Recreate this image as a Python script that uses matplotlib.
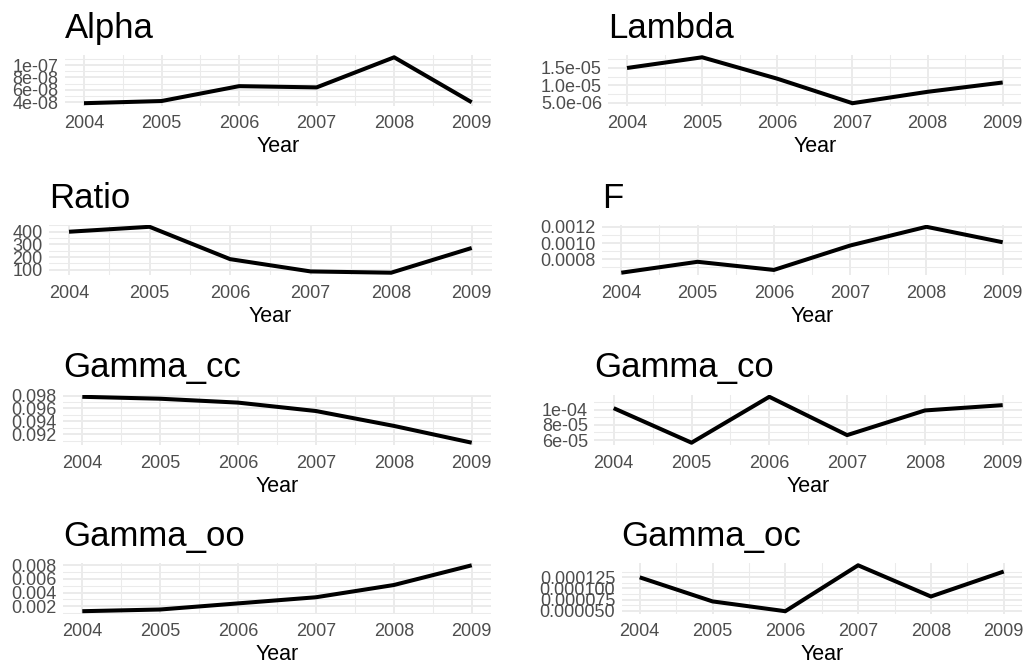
import numpy as np
import matplotlib
matplotlib.use("Agg")
import matplotlib.pyplot as plt

plt.rcParams['font.family'] = ['Liberation Sans', 'DejaVu Sans']

years = [2004, 2005, 2006, 2007, 2008, 2009]

alpha = [3.85e-08, 4.2e-08, 6.6e-08, 6.4e-08, 1.125e-07, 4.0e-08]
lam = [1.5e-05, 1.81e-05, 1.19e-05, 4.8e-06, 8.1e-06, 1.08e-05]
ratio = [400, 439, 184, 87, 77, 272]
f_vals = [0.000636, 0.00077, 0.00067, 0.00097, 0.0012, 0.00101]
gamma_cc = [0.0978, 0.0975, 0.0969, 0.0956, 0.0933, 0.0907]
gamma_co = [1.02e-04, 5.65e-05, 1.17e-04, 6.65e-05, 9.9e-05, 1.06e-04]
gamma_oo = [0.00125, 0.0015, 0.0024, 0.0033, 0.0051, 0.008]
gamma_oc = [1.25e-04, 7.1e-05, 4.9e-05, 1.52e-04, 8.2e-05, 1.38e-04]

# y breaks and their labels, as printed on each panel
alpha_ticks = [4e-08, 6e-08, 8e-08, 1e-07]
alpha_labels = ['4e-08', '6e-08', '8e-08', '1e-07']
lam_ticks = [5e-06, 1e-05, 1.5e-05]
lam_labels = ['5.0e-06', '1.0e-05', '1.5e-05']
ratio_ticks = [100, 200, 300, 400]
ratio_labels = ['100', '200', '300', '400']
f_ticks = [0.0008, 0.0010, 0.0012]
f_labels = ['0.0008', '0.0010', '0.0012']
cc_ticks = [0.092, 0.094, 0.096, 0.098]
cc_labels = ['0.092', '0.094', '0.096', '0.098']
co_ticks = [6e-05, 8e-05, 1e-04]
co_labels = ['6e-05', '8e-05', '1e-04']
oo_ticks = [0.002, 0.004, 0.006, 0.008]
oo_labels = ['0.002', '0.004', '0.006', '0.008']
oc_ticks = [5e-05, 7.5e-05, 1e-04, 1.25e-04]
oc_labels = ['0.000050', '0.000075', '0.000100', '0.000125']

panels = [
    ('Alpha', alpha, alpha_ticks, alpha_labels, 0, 84, 471.7),
    ('Lambda', lam, lam_ticks, lam_labels, 0, 627, 1002.7),
    ('Ratio', ratio, ratio_ticks, ratio_labels, 1, 69, 471.7),
    ('F', f_vals, f_ticks, f_labels, 1, 621.3, 1002.7),
    ('Gamma_cc', gamma_cc, cc_ticks, cc_labels, 2, 82.3, 471.7),
    ('Gamma_co', gamma_co, co_ticks, co_labels, 2, 613.7, 1002.7),
    ('Gamma_oo', gamma_oo, oo_ticks, oo_labels, 3, 82.3, 471.7),
    ('Gamma_oc', gamma_oc, oc_ticks, oc_labels, 3, 639.7, 1003.7),
]

W, H = 1024, 666
row_top = [55, 224.5, 394.5, 563]
panel_h = 50.5
grid_col = '#EBEBEB'

fig = plt.figure(figsize=(W / 100, H / 100), dpi=100)

for name, vals, yt, ylab, row, x0, x1 in panels:
    step = (x1 - x0) / 5
    left = x0 - 0.25 * step
    right = x1 + 0.25 * step
    top = row_top[row]
    ax = fig.add_axes([left / W, 1 - (top + panel_h) / H, (right - left) / W, panel_h / H])

    lo, hi = min(vals), max(vals)
    pad = (hi - lo) * 0.05
    ax.set_ylim(lo - pad, hi + pad)
    ax.set_xlim(2003.75, 2009.25)

    ax.set_xticks(years)
    ax.set_xticks(np.arange(2004.5, 2009, 1.0), minor=True)
    ax.set_yticks(yt)
    ax.set_yticklabels(ylab)
    d = yt[1] - yt[0]
    minors = [t + d / 2 for t in yt] + [yt[0] - d / 2]
    ax.set_yticks([m for m in minors if lo - pad <= m <= hi + pad], minor=True)

    ax.grid(which='major', color=grid_col, lw=1.4)
    ax.grid(which='minor', color=grid_col, lw=0.75)
    ax.set_axisbelow(True)
    for s in ax.spines.values():
        s.set_visible(False)
    ax.tick_params(which='both', length=0)
    ax.tick_params(axis='x', labelsize=13, labelcolor='#4D4D4D', pad=7)
    ax.tick_params(axis='y', labelsize=13, labelcolor='#4D4D4D', pad=4.5)

    ax.plot(years, vals, color='black', lw=2.9, solid_capstyle='butt')
    ax.set_xlabel('Year', fontsize=15.5, labelpad=3)

    fig.text(left / W, 1 - (top - 17) / H, name, fontsize=25, ha='left', va='baseline')

fig.savefig('out.png', dpi=100)
